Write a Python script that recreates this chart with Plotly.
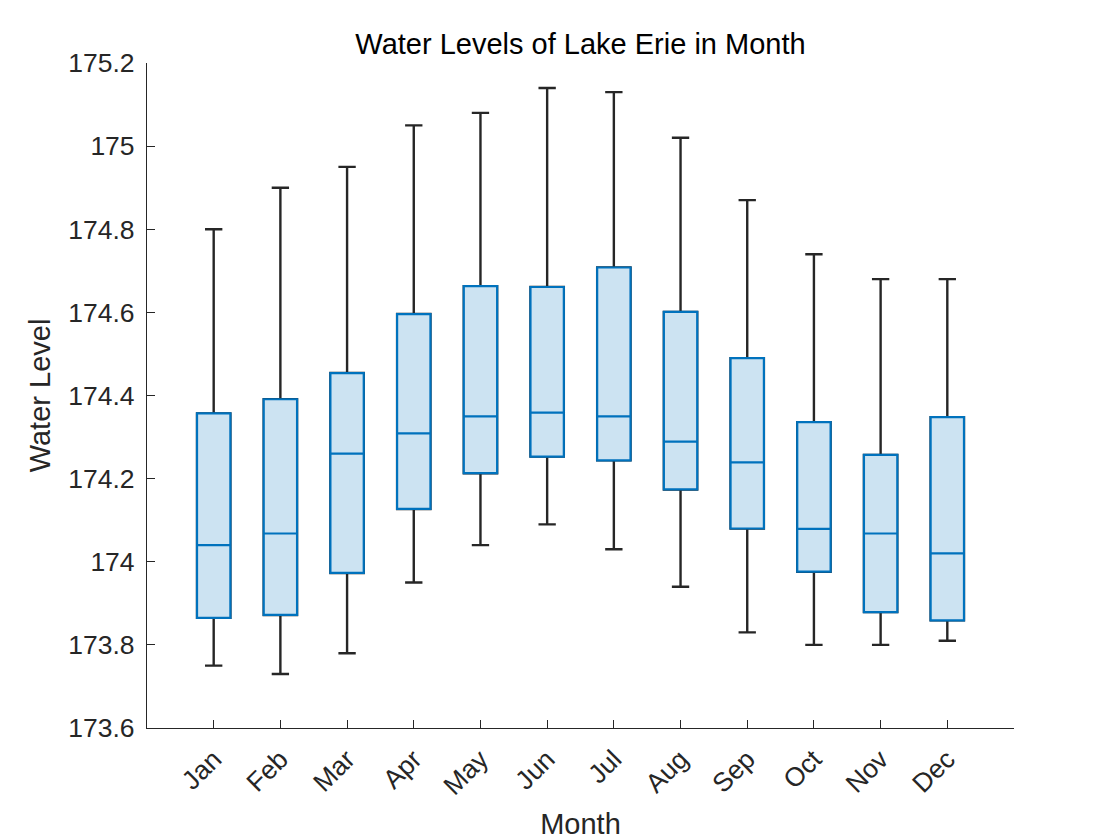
import plotly.graph_objects as go

months = ["Jan", "Feb", "Mar", "Apr", "May", "Jun", "Jul", "Aug", "Sep", "Oct", "Nov", "Dec"]
lower_whisker = [173.75, 173.73, 173.78, 173.95, 174.04, 174.09, 174.03, 173.94, 173.83, 173.80, 173.80, 173.81]
q1 = [173.865, 173.872, 173.973, 174.127, 174.213, 174.253, 174.244, 174.174, 174.080, 173.976, 173.879, 173.859]
median = [174.04, 174.068, 174.26, 174.309, 174.35, 174.359, 174.35, 174.289, 174.239, 174.079, 174.068, 174.02]
q3 = [174.357, 174.391, 174.454, 174.596, 174.663, 174.661, 174.708, 174.601, 174.490, 174.336, 174.257, 174.348]
upper_whisker = [174.80, 174.90, 174.95, 175.05, 175.08, 175.14, 175.13, 175.02, 174.87, 174.74, 174.68, 174.68]

y_ticks = [173.6, 173.8, 174.0, 174.2, 174.4, 174.6, 174.8, 175.0, 175.2]
y_ticktext = ["173.6", "173.8", "174", "174.2", "174.4", "174.6", "174.8", "175", "175.2"]

xpos = list(range(1, len(months) + 1))

fig = go.Figure()
# Whiskers (dark) drawn first
fig.add_trace(go.Box(
    x=xpos, q1=q1, median=median, q3=q3,
    lowerfence=lower_whisker, upperfence=upper_whisker,
    line=dict(color="#262626", width=2.4), fillcolor="rgba(0,0,0,0)",
    whiskerwidth=0.52, width=0.5, boxpoints=False, hoverinfo="skip", showlegend=False,
))
# Boxes (blue) on top
fig.add_trace(go.Box(
    x=xpos, q1=q1, median=median, q3=q3,
    lowerfence=q1, upperfence=q3,
    line=dict(color="#0072BD", width=2.2), fillcolor="#CCE3F2",
    whiskerwidth=0, width=0.5, boxpoints=False, showlegend=False,
))

fig.update_layout(
    width=1120, height=840,
    margin=dict(l=139, r=114, t=55, b=120),
    paper_bgcolor="white", plot_bgcolor="white",
    boxmode="overlay",
    font=dict(family="Liberation Sans, Arial, sans-serif", color="#262626", size=26),
    title=dict(text="Water Levels of Lake Erie in Month", x=0.5, xanchor="center",
               xref="paper", y=1 - 36 / 840, yanchor="middle",
               font=dict(size=29, color="black")),
    xaxis=dict(
        range=[0, 13], tickmode="array", tickvals=xpos, ticktext=months,
        tickangle=-45, ticks="inside", ticklen=8, tickcolor="#262626", ticklabelstandoff=4,
        showline=True, linecolor="#262626", linewidth=1.2, showgrid=False, zeroline=False,
        title=dict(text="Month", font=dict(size=29), standoff=14),
        tickfont=dict(size=26.5),
    ),
    yaxis=dict(
        range=[173.6, 175.2], tickmode="array",
        tickvals=y_ticks, ticktext=y_ticktext,
        ticks="inside", ticklen=8, tickcolor="#262626", ticklabelstandoff=6,
        showline=True, linecolor="#262626", linewidth=1.2, showgrid=False, zeroline=False,
        title=dict(text="Water Level", font=dict(size=29), standoff=9),
        tickfont=dict(size=26.5),
    ),
)

fig.write_html("out.html")
